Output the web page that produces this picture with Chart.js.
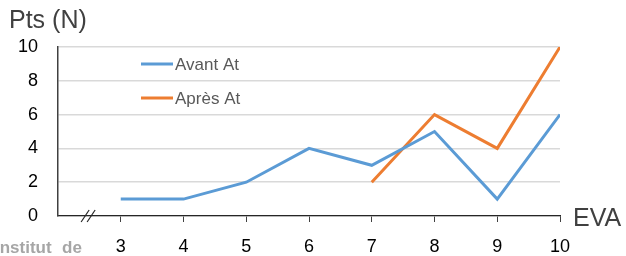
<!DOCTYPE html>
<html>
<head>
<meta charset="utf-8">
<script src="https://cdn.jsdelivr.net/npm/chart.js@4/dist/chart.umd.min.js"></script>
<style>
  body { margin: 0; background: #fff; }
  #wrap { width: 626px; height: 256px; position: relative; }
</style>
</head>
<body>
<div id="wrap"><canvas id="ptsChart" width="626" height="256"></canvas></div>
<script>
// EVA score on x, points on y
const evaTicks = [3, 4, 5, 6, 7, 8, 9, 10];
const avantAt = [1, 1, 2, 4, 3, 5, 1, 6];
const apresEva = [7, 8, 9, 10];
const apresAt = [2, 6, 4, 10];
const yTicks = [0, 2, 4, 6, 8, 10];

const blue = '#5b9bd5';
const orange = '#ed7d31';
const fam = '"Liberation Sans", Arial, sans-serif';

// titles, legend, axis break
const extras = {
    id: 'extras',
    afterDraw(chart) {
        const c = chart.ctx;
        const x = chart.scales.x, y = chart.scales.y;
        c.save();
        c.fillStyle = '#404040';
        c.font = '25px ' + fam;
        c.textBaseline = 'alphabetic';
        c.textAlign = 'left';
        c.fillText('Pts (N)', 9, 28);
        c.fillText('EVA', 573, 226);

        c.fillStyle = '#a6a6a6';
        c.font = 'bold 17px ' + fam;
        c.fillText('Institut', -5, 253);
        c.fillText('de', 62, 253);

        // break marks on the x axis
        const bx = x.getPixelForValue(2.48), by = y.getPixelForValue(0);
        c.strokeStyle = '#262626';
        c.lineWidth = 1.2;
        [-3, 3].forEach(d => {
            c.beginPath();
            c.moveTo(bx + d - 4, by + 6);
            c.lineTo(bx + d + 4, by - 6);
            c.stroke();
        });

        // legend inside the plot
        c.textBaseline = 'middle';
        c.font = '17px ' + fam;
        chart.data.datasets.forEach((ds, i) => {
            const ly = 64 + i * 34;
            c.strokeStyle = ds.borderColor;
            c.lineWidth = 3;
            c.beginPath();
            c.moveTo(141, ly);
            c.lineTo(173, ly);
            c.stroke();
            c.fillStyle = '#595959';
            c.fillText(ds.label, 175, ly + 1);
        });
        c.restore();
    }
};

new Chart(document.getElementById('ptsChart'), {
    type: 'line',
    data: {
        datasets: [{
            label: 'Avant At',
            data: evaTicks.map((e, i) => ({ x: e, y: avantAt[i] })),
            borderColor: blue,
            borderWidth: 3,
            pointRadius: 0,
            tension: 0,
            fill: false
        }, {
            label: 'Après At',
            data: apresEva.map((e, i) => ({ x: e, y: apresAt[i] })),
            borderColor: orange,
            borderWidth: 3,
            pointRadius: 0,
            tension: 0,
            fill: false
        }]
    },
    options: {
        responsive: false,
        animation: false,
        layout: { padding: { top: 47, right: 66, left: 0, bottom: 0 } },
        plugins: { legend: { display: false }, tooltip: { enabled: false } },
        scales: {
            x: {
                type: 'linear',
                min: 2,
                max: 10,
                afterBuildTicks: s => { s.ticks = evaTicks.map(v => ({ value: v })); },
                afterFit: s => { s.height = 40; },
                grid: { drawOnChartArea: false, drawTicks: true, tickLength: 6, color: '#404040' },
                border: { color: '#262626', width: 1.2 },
                ticks: {
                    padding: 14,
                    color: '#000',
                    font: { size: 18, family: fam }
                }
            },
            y: {
                min: 0,
                max: 10,
                afterBuildTicks: s => { s.ticks = yTicks.map(v => ({ value: v })); },
                afterFit: s => { s.width = 58; },
                grid: { color: '#d9d9d9', lineWidth: 1.5, drawTicks: false },
                border: { color: '#404040', width: 1.5 },
                ticks: {
                    padding: 20,
                    color: '#000',
                    font: { size: 18, family: fam }
                }
            }
        }
    },
    plugins: [extras]
});
</script>
</body>
</html>
